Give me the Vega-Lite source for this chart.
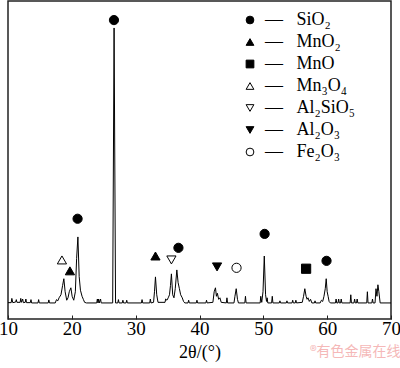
{
  "$schema": "https://vega.github.io/schema/vega-lite/v6.json",
  "width": 383,
  "height": 318,
  "autosize": "none",
  "padding": {"left": 8, "top": 1, "right": 9, "bottom": 49},
  "background": "white",
  "config": {
    "view": {"stroke": "#222", "strokeWidth": 1.5},
    "font": "Liberation Serif"
  },
  "title": {
    "text": "®有色金属在线",
    "orient": "bottom",
    "anchor": "end",
    "font": "Noto Sans CJK SC",
    "fontSize": 14,
    "fontWeight": "normal",
    "color": "#f5b8b8",
    "offset": -16
  },
  "datasets": {
    "xrd": [
      {"t":10.0,"i":4},{"t":10.5,"i":4},{"t":10.6,"i":18},{"t":10.75,"i":4},{"t":11.2,"i":6},{"t":11.3,"i":14},{"t":11.4,"i":5},{"t":11.9,"i":5},{"t":12.0,"i":18},{"t":12.1,"i":5},{"t":12.3,"i":16},{"t":12.4,"i":4},{"t":12.7,"i":5},{"t":12.8,"i":16},{"t":12.9,"i":4},{"t":13.5,"i":4},{"t":13.6,"i":14},{"t":13.7,"i":3},{"t":14.7,"i":3},{"t":14.8,"i":14},{"t":14.9,"i":3},{"t":16.3,"i":3},{"t":16.4,"i":13},{"t":16.5,"i":3},{"t":17.4,"i":3},{"t":17.6,"i":14},{"t":17.8,"i":10},{"t":18.0,"i":20},{"t":18.3,"i":30},{"t":18.55,"i":60},{"t":18.75,"i":83},{"t":18.95,"i":40},{"t":19.2,"i":12},{"t":19.4,"i":20},{"t":19.6,"i":40},{"t":19.85,"i":53},{"t":20.05,"i":25},{"t":20.3,"i":12},{"t":20.55,"i":40},{"t":20.75,"i":150},{"t":20.95,"i":221},{"t":21.15,"i":90},{"t":21.35,"i":45},{"t":21.6,"i":25},{"t":21.8,"i":15},{"t":22.0,"i":5},{"t":22.3,"i":3},{"t":23.9,"i":3},{"t":24.0,"i":16},{"t":24.1,"i":3},{"t":24.2,"i":16},{"t":24.3,"i":3},{"t":24.5,"i":16},{"t":24.6,"i":3},{"t":26.4,"i":3},{"t":26.62,"i":911},{"t":26.85,"i":3},{"t":27.2,"i":3},{"t":27.3,"i":14},{"t":27.4,"i":3},{"t":27.9,"i":3},{"t":28.0,"i":12},{"t":28.1,"i":3},{"t":28.5,"i":3},{"t":28.6,"i":12},{"t":28.7,"i":3},{"t":30.9,"i":3},{"t":31.0,"i":14},{"t":31.1,"i":3},{"t":32.2,"i":3},{"t":32.3,"i":16},{"t":32.4,"i":3},{"t":32.8,"i":5},{"t":32.95,"i":40},{"t":33.1,"i":89},{"t":33.3,"i":30},{"t":33.5,"i":5},{"t":34.6,"i":5},{"t":34.7,"i":16},{"t":34.9,"i":12},{"t":35.1,"i":20},{"t":35.3,"i":30},{"t":35.45,"i":60},{"t":35.6,"i":99},{"t":35.8,"i":30},{"t":36.0,"i":20},{"t":36.2,"i":50},{"t":36.45,"i":112},{"t":36.65,"i":70},{"t":36.85,"i":50},{"t":37.05,"i":30},{"t":37.3,"i":20},{"t":37.5,"i":8},{"t":37.7,"i":3},{"t":38.2,"i":3},{"t":38.3,"i":12},{"t":38.4,"i":3},{"t":39.5,"i":3},{"t":39.6,"i":12},{"t":39.7,"i":3},{"t":41.0,"i":3},{"t":41.1,"i":12},{"t":41.2,"i":3},{"t":42.1,"i":5},{"t":42.3,"i":40},{"t":42.5,"i":53},{"t":42.65,"i":25},{"t":42.8,"i":35},{"t":43.0,"i":15},{"t":43.2,"i":20},{"t":43.4,"i":5},{"t":44.2,"i":3},{"t":44.3,"i":20},{"t":44.4,"i":3},{"t":45.4,"i":3},{"t":45.55,"i":25},{"t":45.75,"i":50},{"t":45.95,"i":15},{"t":46.1,"i":3},{"t":47.1,"i":3},{"t":47.2,"i":25},{"t":47.3,"i":3},{"t":49.5,"i":3},{"t":49.6,"i":25},{"t":49.75,"i":5},{"t":49.95,"i":40},{"t":50.15,"i":158},{"t":50.35,"i":30},{"t":50.5,"i":8},{"t":50.6,"i":20},{"t":50.7,"i":3},{"t":51.3,"i":3},{"t":51.4,"i":25},{"t":51.5,"i":3},{"t":52.5,"i":3},{"t":52.6,"i":10},{"t":52.7,"i":3},{"t":53.6,"i":3},{"t":53.7,"i":10},{"t":53.8,"i":3},{"t":54.5,"i":3},{"t":54.6,"i":12},{"t":54.7,"i":3},{"t":55.0,"i":3},{"t":55.1,"i":12},{"t":55.2,"i":3},{"t":56.1,"i":5},{"t":56.3,"i":25},{"t":56.5,"i":50},{"t":56.7,"i":25},{"t":56.85,"i":15},{"t":57.0,"i":20},{"t":57.2,"i":8},{"t":57.4,"i":15},{"t":57.6,"i":3},{"t":58.0,"i":3},{"t":58.1,"i":10},{"t":58.2,"i":3},{"t":58.9,"i":3},{"t":59.1,"i":12},{"t":59.3,"i":8},{"t":59.5,"i":25},{"t":59.7,"i":50},{"t":59.85,"i":83},{"t":60.0,"i":40},{"t":60.15,"i":25},{"t":60.3,"i":8},{"t":60.5,"i":3},{"t":61.3,"i":3},{"t":61.4,"i":16},{"t":61.5,"i":3},{"t":61.7,"i":3},{"t":61.8,"i":16},{"t":61.9,"i":3},{"t":62.1,"i":3},{"t":62.2,"i":16},{"t":62.3,"i":3},{"t":63.6,"i":3},{"t":63.7,"i":30},{"t":63.8,"i":3},{"t":64.2,"i":3},{"t":64.3,"i":16},{"t":64.4,"i":3},{"t":64.6,"i":3},{"t":64.7,"i":16},{"t":64.8,"i":3},{"t":66.2,"i":3},{"t":66.3,"i":40},{"t":66.4,"i":3},{"t":67.0,"i":3},{"t":67.1,"i":16},{"t":67.2,"i":3},{"t":67.5,"i":3},{"t":67.65,"i":50},{"t":67.8,"i":25},{"t":67.95,"i":63},{"t":68.1,"i":40},{"t":68.3,"i":3},{"t":70.0,"i":3}
    ],
    "phases": [
      {"t":26.6,"i":937,"phase":"SiO₂"},
      {"t":20.9,"i":281,"phase":"SiO₂"},
      {"t":36.7,"i":185,"phase":"SiO₂"},
      {"t":50.2,"i":231,"phase":"SiO₂"},
      {"t":59.9,"i":142,"phase":"SiO₂"},
      {"t":19.7,"i":109,"phase":"MnO₂"},
      {"t":33.1,"i":158,"phase":"MnO₂"},
      {"t":56.7,"i":116,"phase":"MnO"},
      {"t":18.45,"i":145,"phase":"Mn₃O₄"},
      {"t":35.6,"i":145,"phase":"Al₂SiO₅"},
      {"t":42.75,"i":122,"phase":"Al₂O₃"},
      {"t":45.8,"i":119,"phase":"Fe₂O₃"}
    ]
  },
  "layer": [
    {
      "data": {"name": "xrd"},
      "mark": {"type": "line", "color": "black", "strokeWidth": 1, "clip": true},
      "encoding": {
        "x": {
          "field": "t", "type": "quantitative",
          "scale": {"domain": [10, 70], "nice": false},
          "axis": {
            "title": "2θ/(°)",
            "titleFont": "Liberation Serif",
            "titleFontSize": 18,
            "titleFontWeight": "normal",
            "titleColor": "black",
            "titlePadding": 5,
            "values": [10, 20, 30, 40, 50, 60, 70],
            "labelFont": "Liberation Serif",
            "labelFontSize": 19,
            "labelColor": "black",
            "labelPadding": 4,
            "labelFlush": false,
            "labelOverlap": false,
            "tickSize": -4,
            "tickColor": "#222",
            "tickWidth": 1,
            "domain": false,
            "grid": false
          }
        },
        "y": {
          "field": "i", "type": "quantitative",
          "scale": {"domain": [-50, 1000], "nice": false, "zero": false},
          "axis": null
        }
      }
    },
    {
      "data": {"name": "phases"},
      "mark": {"type": "point", "filled": true, "stroke": "black", "strokeWidth": 1, "size": 85, "opacity": 1},
      "encoding": {
        "x": {"field": "t", "type": "quantitative"},
        "y": {"field": "i", "type": "quantitative"},
        "shape": {
          "field": "phase", "type": "nominal",
          "scale": {
            "domain": ["SiO₂", "MnO₂", "MnO", "Mn₃O₄", "Al₂SiO₅", "Al₂O₃", "Fe₂O₃"],
            "range": ["circle", "triangle-up", "square", "triangle-up", "triangle-down", "triangle-down", "circle"]
          },
          "legend": {
            "title": null,
            "orient": "none",
            "legendX": 233,
            "legendY": 10,
            "padding": 0,
            "labelFont": "Liberation Serif",
            "labelFontSize": 18,
            "labelColor": "black",
            "labelOffset": 6,
            "symbolSize": 60,
            "symbolStrokeColor": "black",
            "symbolStrokeWidth": 1,
            "rowPadding": 4,
            "labelExpr": "'— \u2002' + datum.label",
            "symbolOpacity": 1,
            "encode": {"symbols": {"update": {"stroke": {"value": "black"}, "strokeWidth": {"value": 1}, "opacity": {"value": 1}}}}
          }
        },
        "fill": {
          "field": "phase", "type": "nominal",
          "scale": {
            "domain": ["SiO₂", "MnO₂", "MnO", "Mn₃O₄", "Al₂SiO₅", "Al₂O₃", "Fe₂O₃"],
            "range": ["black", "black", "black", "white", "white", "black", "white"]
          },
          "legend": {
            "title": null,
            "orient": "none",
            "legendX": 233,
            "legendY": 10,
            "padding": 0,
            "labelFont": "Liberation Serif",
            "labelFontSize": 18,
            "labelColor": "black",
            "labelOffset": 6,
            "symbolSize": 60,
            "symbolStrokeColor": "black",
            "symbolStrokeWidth": 1,
            "rowPadding": 4,
            "labelExpr": "'— \u2002' + datum.label",
            "symbolOpacity": 1,
            "encode": {"symbols": {"update": {"stroke": {"value": "black"}, "strokeWidth": {"value": 1}, "opacity": {"value": 1}}}}
          }
        }
      }
    }
  ]
}
